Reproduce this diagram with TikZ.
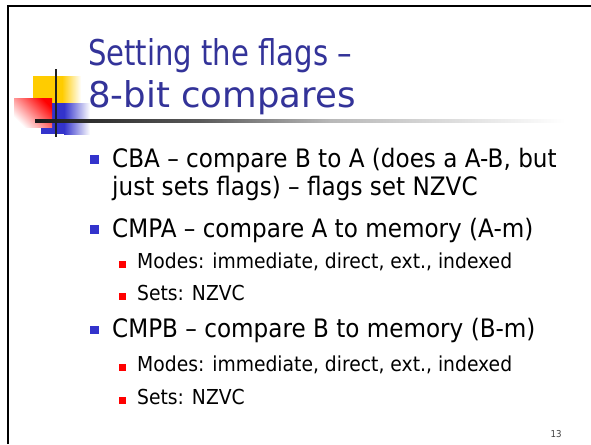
\documentclass[tikz,border=0pt]{standalone}
\usepackage{fontspec}
\setmainfont{DejaVu Sans}[FakeStretch=0.91]
\definecolor{titleblue}{HTML}{333399}
\definecolor{bulblue}{HTML}{3333CC}
\definecolor{logoyellow}{HTML}{FFCC00}
\begin{document}
\begin{tikzpicture}[x=1pt,y=-1pt,
  titletxt/.style={anchor=base west, inner sep=0, text=titleblue, font=\fontsize{35.5}{40}\selectfont},
  maintxt/.style={anchor=base west, inner sep=0, font=\fontsize{25.4}{30}\selectfont},
  subtxt/.style={anchor=base west, inner sep=0, font=\fontsize{20.6}{25}\selectfont},
  mbul/.style={fill=bulblue, minimum size=8.5pt, inner sep=0},
  sbul/.style={fill=red, minimum size=7pt, inner sep=0},
  frameline/.style={line width=2pt, black}]
\useasboundingbox (0,0) rectangle (591,444);
\fill[white] (0,0) rectangle (591,444);
% frame
\coordinate (fbl) at (8.3,444);
\coordinate (ftl) at (8.3,6);
\coordinate (ftr) at (591,6);
\draw[frameline] (fbl) -- (ftl) -- (ftr);
% logo
\fill[logoyellow] (33,76) rectangle (62,104);
\shade[left color=logoyellow, right color=white] (62,76) rectangle (81,104);
\fill[bulblue] (41,103) rectangle (64,134);
\shade[left color=bulblue, right color=white] (64,103) rectangle (90,134);
\shade[left color=white, right color=red, shading angle=135] (14,98) rectangle (52,127);
% rule line
\shade[left color=black!90, right color=black!65] (35,119.8) rectangle (200,122.3);
\shade[left color=black!65, right color=black!28] (200,119.8) rectangle (330,122.3);
\shade[left color=black!28, right color=white] (330,119.8) rectangle (565,122.3);
\fill[black!88] (54.8,69) rectangle (57.3,137);
% title
\node[titletxt] (title1) at (88,65) {\scalebox{0.9}[1]{Setting the flags –}};
\node[titletxt] (title2) at (88,107) {\scalebox{1.1}[1]{8-bit compares}};
% bullets
\node[mbul] (b1) at (94.3,159.5) {};
\node[maintxt] (t1a) at (112,167) {CBA – compare B to A (does a A-B, but};
\node[maintxt] (t1b) at (112,195) {just sets flags) – flags set NZVC};
\node[mbul] (b2) at (94.3,229.5) {};
\node[maintxt] (t2) at (112,237) {CMPA – compare A to memory (A-m)};
\node[sbul] (s1) at (122.5,264) {};
\node[subtxt] (u1) at (137,268) {Modes: immediate, direct, ext., indexed};
\node[sbul] (s2) at (122.5,296) {};
\node[subtxt] (u2) at (137,300) {Sets: NZVC};
\node[mbul] (b3) at (94.3,330) {};
\node[maintxt] (t3) at (112,337) {CMPB – compare B to memory (B-m)};
\node[sbul] (s3) at (122.5,367) {};
\node[subtxt] (u3) at (137,371) {Modes: immediate, direct, ext., indexed};
\node[sbul] (s4) at (122.5,400) {};
\node[subtxt] (u4) at (137,404) {Sets: NZVC};
% page number
\node[anchor=base, inner sep=0, text=black!75, font=\fontsize{9.5}{11}\selectfont] (pg) at (556,437) {13};
\end{tikzpicture}
\end{document}
